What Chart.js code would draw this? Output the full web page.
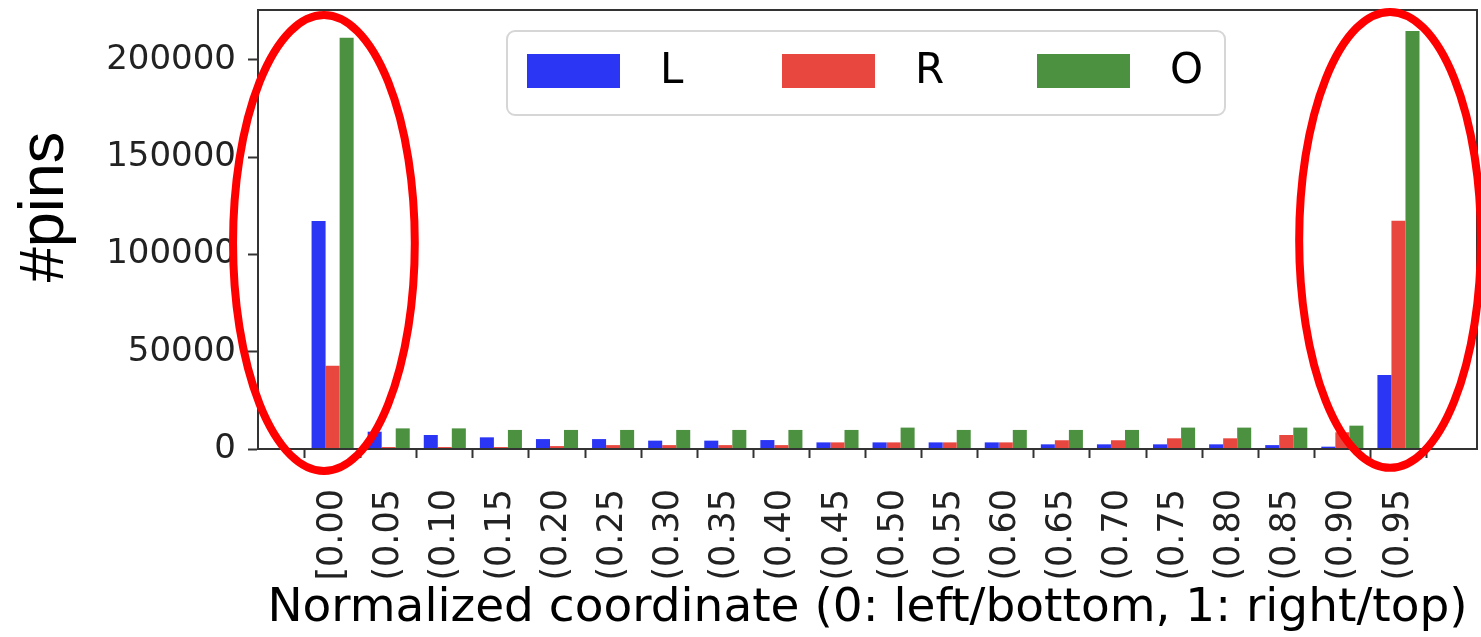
<!DOCTYPE html>
<html>
<head>
<meta charset="utf-8">
<title>pins per normalized coordinate</title>
<script src="https://cdn.jsdelivr.net/npm/chart.js@4.4.1/dist/chart.umd.min.js"></script>
<style>
    html, body { margin: 0; padding: 0; background: #fff; }
    #wrap { width: 1481px; height: 637px; }
</style>
</head>
<body>
<div id="wrap"><canvas id="pinsChart" width="1481" height="637"></canvas></div>
<script>

// bins of the normalized coordinate
const categories = ["[0.00", "(0.05", "(0.10", "(0.15", "(0.20", "(0.25", "(0.30", "(0.35", "(0.40", "(0.45",
                    "(0.50", "(0.55", "(0.60", "(0.65", "(0.70", "(0.75", "(0.80", "(0.85", "(0.90", "(0.95"];

// #pins per bin
const valuesL = [117200, 8900, 7200, 6000, 5100, 5100, 4300, 4300, 4600, 3400,
                 3400, 3400, 3400, 2400, 2400, 2400, 2400, 2000, 1200, 38000];
const valuesR = [42800, 1000, 1000, 1000, 1500, 2000, 2000, 2000, 2000, 3400,
                 3400, 3400, 3400, 4500, 4500, 5500, 5500, 7200, 8600, 117300];
const valuesO = [211400, 10600, 10600, 9800, 9800, 9800, 9800, 9800, 9800, 9800,
                 11000, 9800, 9800, 9800, 9800, 11000, 11000, 11000, 12000, 214900];

const seriesNames = ["L", "R", "O"];
const yTicks = [0, 50000, 100000, 150000, 200000];
const yTitle = "#pins";

// red rings drawn over the two end bins (data units)
const highlights = [
    { x: -0.155, y: 105900, rx: 1.62, ry: 117200 },
    { x: 18.85, y: 107500, rx: 1.62, ry: 117200 }
];

function toPoints(values) {
    return values.map(function (v, i) { return { x: i, y: v }; });
}

// box round the plot (top + right side, the axes give the rest)
const framePlugin = {
    id: 'frame',
    afterDatasetsDraw(chart) {
        const a = chart.chartArea;
        const ctx = chart.ctx;
        ctx.save();
        ctx.strokeStyle = '#333';
        ctx.lineWidth = 2;
        ctx.strokeRect(a.left, a.top, a.right - a.left, a.bottom - a.top);
        ctx.restore();
    }
};

// y title sits a bit above the middle in the original, so draw it here
const yTitlePlugin = {
    id: 'yTitle',
    afterDraw(chart) {
        const ctx = chart.ctx;
        ctx.save();
        ctx.translate(46, 207);
        ctx.rotate(-Math.PI / 2);
        ctx.font = '63px "Liberation Sans"';
        ctx.fillStyle = '#000';
        ctx.textAlign = 'center';
        ctx.textBaseline = 'middle';
        ctx.fillText(yTitle, 0, 0);
        ctx.restore();
    }
};

// legend box in the plot, matplotlib style
const legendPlugin = {
    id: 'boxLegend',
    afterDraw(chart) {
        const ctx = chart.ctx;
        ctx.save();
        ctx.beginPath();
        ctx.roundRect(507, 31, 718, 84, 8);
        ctx.fillStyle = 'rgba(255,255,255,0.9)';
        ctx.fill();
        ctx.strokeStyle = '#d6d6d6';
        ctx.lineWidth = 2;
        ctx.stroke();

        ctx.font = '42px "DejaVu Sans"';
        ctx.textBaseline = 'middle';
        ctx.textAlign = 'left';
        chart.data.datasets.forEach(function (ds, i) {
            const x = 527 + i * 255;
            ctx.fillStyle = ds.backgroundColor;
            ctx.fillRect(x, 54, 93, 34);
            ctx.fillStyle = '#000';
            ctx.fillText(ds.label, x + 133, 72);
        });
        ctx.restore();
    }
};

const ringPlugin = {
    id: 'rings',
    afterDraw(chart) {
        const xs = chart.scales.x, ys = chart.scales.y;
        const ctx = chart.ctx;
        ctx.save();
        ctx.strokeStyle = '#ff0000';
        ctx.lineWidth = 8;
        highlights.forEach(function (h) {
            const cx = xs.getPixelForValue(h.x);
            const cy = ys.getPixelForValue(h.y);
            const rx = Math.abs(xs.getPixelForValue(h.x + h.rx) - cx);
            const ry = Math.abs(ys.getPixelForValue(h.y + h.ry) - cy);
            ctx.beginPath();
            ctx.ellipse(cx, cy, rx, ry, 0, 0, Math.PI * 2);
            ctx.stroke();
        });
        ctx.restore();
    }
};

function noPad(axis) {
    axis.paddingTop = 0;
    axis.paddingBottom = 0;
    axis.paddingLeft = 0;
    axis.paddingRight = 0;
}

function ShowPinsChart(id) {
    new Chart(id, {
        type: "bar",
        data: {
            datasets: [
                { label: seriesNames[0], data: toPoints(valuesL), backgroundColor: "#2b36f5", borderWidth: 0 },
                { label: seriesNames[1], data: toPoints(valuesR), backgroundColor: "#e8473f", borderWidth: 0 },
                { label: seriesNames[2], data: toPoints(valuesO), backgroundColor: "#4c9140", borderWidth: 0 }
            ]
        },
        options: {
            responsive: false,
            animation: false,
            devicePixelRatio: 1,
            layout: { padding: { top: 10, right: 4, left: 0, bottom: 0 } },
            datasets: { bar: { categoryPercentage: 0.75, barPercentage: 1.0 } },
            plugins: {
                legend: { display: false },
                tooltip: { enabled: false }
            },
            scales: {
                x: {
                    type: 'linear',
                    min: -1.33,
                    max: 20.40,
                    offset: false,
                    afterBuildTicks: function (axis) {
                        axis.ticks = categories.map(function (c, i) { return { value: i }; });
                    },
                    afterFit: function (axis) { axis.height = 188; noPad(axis); },
                    grid: { display: true, drawOnChartArea: false, tickLength: 9, tickColor: '#333', tickWidth: 2 },
                    border: { display: true, color: '#333', width: 2 },
                    ticks: {
                        autoSkip: false,
                        minRotation: 90,
                        maxRotation: 90,
                        padding: 31,
                        color: '#222',
                        font: { family: 'DejaVu Sans', size: 35 },
                        callback: function (v) { return categories[v]; }
                    },
                    title: {
                        display: true,
                        text: 'Normalized coordinate (0: left/bottom, 1: right/top)',
                        color: '#000',
                        font: { family: 'DejaVu Sans', size: 47 },
                        padding: { top: 0, bottom: 0 }
                    }
                },
                y: {
                    min: 0,
                    max: 225700,
                    afterBuildTicks: function (axis) {
                        axis.ticks = yTicks.map(function (v) { return { value: v }; });
                    },
                    afterFit: function (axis) { axis.width = 258; noPad(axis); },
                    grid: { display: true, drawOnChartArea: false, tickLength: 10, tickColor: '#333', tickWidth: 2 },
                    border: { display: true, color: '#333', width: 2 },
                    ticks: {
                        padding: 12,
                        color: '#222',
                        font: { family: 'DejaVu Sans', size: 34 },
                        callback: function (v) { return String(v); }
                    }
                }
            }
        },
        plugins: [framePlugin, yTitlePlugin, legendPlugin, ringPlugin]
    });
}

ShowPinsChart("pinsChart");
</script>
</body>
</html>
